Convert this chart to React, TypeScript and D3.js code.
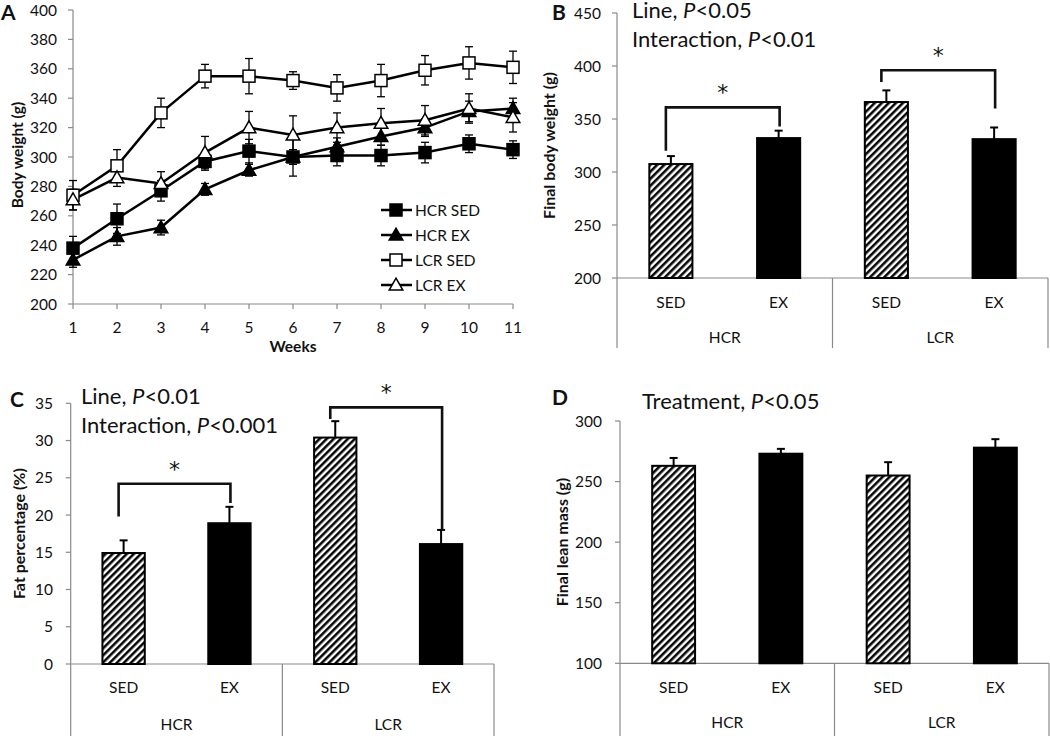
import React from "react";
import * as d3 from "d3";

// ---------- Panel A data ----------
const weeks = [1, 2, 3, 4, 5, 6, 7, 8, 9, 10, 11];
const hcrSed = [238, 258, 277, 297, 304, 300, 301, 301, 303, 309, 305];
const hcrSedErr = [8, 10, 7, 6, 8, 13, 7, 7, 7, 6, 6];
const hcrEx = [230, 246, 252, 278, 291, 300, 307, 314, 320, 331, 333];
const hcrExErr = [5, 6, 5, 4, 4, 5, 6, 6, 6, 7, 7];
const lcrSed = [274, 294, 330, 355, 355, 352, 347, 352, 359, 364, 361];
const lcrSedErr = [10, 11, 10, 8, 12, 6, 9, 11, 10, 11, 11];
const lcrEx = [271, 286, 282, 303, 320, 315, 320, 323, 325, 333, 327];
const lcrExErr = [7, 6, 8, 11, 11, 13, 10, 10, 10, 10, 10];
const seriesNames = ["HCR SED", "HCR EX", "LCR SED", "LCR EX"];
const weightTicks = [200, 220, 240, 260, 280, 300, 320, 340, 360, 380, 400];

// ---------- Bar panels data ----------
const groups = ["HCR", "LCR"];
const treatments = ["SED", "EX"];
const finalBW = [307.5, 332, 366, 331];
const finalBWErr = [7.5, 7, 11, 11];
const bwTicks = [200, 250, 300, 350, 400, 450];
const fatPct = [14.9, 18.9, 30.4, 16.1];
const fatPctErr = [1.7, 2.2, 2.2, 1.9];
const fatTicks = [0, 5, 10, 15, 20, 25, 30, 35];
const leanMass = [263, 273, 255, 278];
const leanMassErr = [6.5, 4, 11, 7];
const leanTicks = [100, 150, 200, 250, 300];

const FONT = "Lato, 'Open Sans', sans-serif";
const AXIS = "#8a8a8a";

type Marker = "sq" | "tri";

function MarkerShape({ x, y, kind, filled }: { x: number; y: number; kind: Marker; filled: boolean }) {
  const fill = filled ? "#000" : "#fff";
  if (kind === "sq") {
    return <rect x={x - 6} y={y - 6} width={12} height={12} fill={fill} stroke="#000" strokeWidth={1.5} />;
  }
  const s = 6.8;
  return (
    <path
      d={`M${x},${y - s}L${x + s},${y + s * 0.75}L${x - s},${y + s * 0.75}Z`}
      fill={fill}
      stroke="#000"
      strokeWidth={1.5}
    />
  );
}

function LinePanel() {
  const left = 73, right = 513, top = 10, bottom = 304;
  const x = d3.scaleLinear().domain([1, 11]).range([left, right]);
  const y = d3.scaleLinear().domain([200, 400]).range([bottom, top]);
  const series = [
    { name: seriesNames[0], v: hcrSed, e: hcrSedErr, kind: "sq" as Marker, filled: true },
    { name: seriesNames[1], v: hcrEx, e: hcrExErr, kind: "tri" as Marker, filled: true },
    { name: seriesNames[2], v: lcrSed, e: lcrSedErr, kind: "sq" as Marker, filled: false },
    { name: seriesNames[3], v: lcrEx, e: lcrExErr, kind: "tri" as Marker, filled: false },
  ];
  const line = d3.line<number>().x((_, i) => x(weeks[i])).y((d) => y(d));
  return (
    <g fontFamily={FONT}>
      <line x1={left} x2={left} y1={top} y2={bottom} stroke={AXIS} strokeWidth={1.2} />
      <line x1={left} x2={right} y1={bottom} y2={bottom} stroke={AXIS} strokeWidth={1.2} />
      {weightTicks.map((t) => (
        <g key={t}>
          <line x1={left - 5} x2={left} y1={y(t)} y2={y(t)} stroke={AXIS} strokeWidth={1.2} />
          <text x={57} y={y(t)} dy="0.36em" textAnchor="end" fontSize={15.5} fill="#111">
            {t}
          </text>
        </g>
      ))}
      {weeks.map((w) => (
        <g key={w}>
          <line x1={x(w)} x2={x(w)} y1={bottom} y2={bottom + 5} stroke={AXIS} strokeWidth={1.2} />
          <text x={x(w)} y={333} textAnchor="middle" fontSize={15.5} fill="#111">
            {w}
          </text>
        </g>
      ))}
      <text x={293} y={352} textAnchor="middle" fontSize={15.5} fontWeight="bold" fill="#111">
        Weeks
      </text>
      <text
        transform={`translate(23,155) rotate(-90)`}
        textAnchor="middle"
        fontSize={15.5}
        fontWeight="bold"
        fill="#111"
      >
        Body weight (g)
      </text>
      <text x={1} y={20} fontSize={21} fontWeight="bold" fill="#111">
        A
      </text>
      {series.map((s) => (
        <g key={s.name}>
          <path d={line(s.v) || ""} fill="none" stroke="#000" strokeWidth={2.5} />
        </g>
      ))}
      {series.map((s) => (
        <g key={s.name + "e"}>
          {s.v.map((v, i) => (
            <g key={i} stroke="#000" strokeWidth={1.3}>
              <line x1={x(weeks[i])} x2={x(weeks[i])} y1={y(v + s.e[i])} y2={y(v - s.e[i])} />
              <line x1={x(weeks[i]) - 4} x2={x(weeks[i]) + 4} y1={y(v + s.e[i])} y2={y(v + s.e[i])} />
              <line x1={x(weeks[i]) - 4} x2={x(weeks[i]) + 4} y1={y(v - s.e[i])} y2={y(v - s.e[i])} />
            </g>
          ))}
        </g>
      ))}
      {series.map((s) => (
        <g key={s.name + "m"}>
          {s.v.map((v, i) => (
            <MarkerShape key={i} x={x(weeks[i])} y={y(v)} kind={s.kind} filled={s.filled} />
          ))}
        </g>
      ))}
      {series.map((s, i) => {
        const ly = 210 + i * 25;
        return (
          <g key={s.name + "l"}>
            <line x1={381} x2={412} y1={ly} y2={ly} stroke="#000" strokeWidth={2.5} />
            <MarkerShape x={396} y={ly} kind={s.kind} filled={s.filled} />
            <text x={415} y={ly} dy="0.36em" fontSize={15.5} fill="#111">
              {s.name}
            </text>
          </g>
        );
      })}
    </g>
  );
}

type Bracket = { a: number; b: number; level: number; endA: number; endB: number };

type BarPanelProps = {
  left: number;
  right: number;
  top: number;
  bottom: number;
  sepBottom: number;
  domain: [number, number];
  ticks: number[];
  values: number[];
  errors: number[];
  labelRight: number;
  yLabel: string;
  yLabelX: number;
  tickBaseline: number;
  groupBaseline: number;
  letter: string;
  letterPos: [number, number];
  notes: { text: string; italicP: string; x: number; y: number }[];
  brackets: Bracket[];
};

function BarPanel(p: BarPanelProps) {
  const keys = groups.flatMap((g) => treatments.map((t) => `${g}-${t}`));
  const x = d3.scaleBand().domain(keys).range([p.left, p.right]).paddingInner(0.6).paddingOuter(0.3);
  const y = d3.scaleLinear().domain(p.domain).range([p.bottom, p.top]);
  const gw = (p.right - p.left) / groups.length;
  const cx = (i: number) => (x(keys[i]) as number) + x.bandwidth() / 2;
  return (
    <g fontFamily={FONT}>
      <line x1={p.left} x2={p.left} y1={p.top} y2={p.sepBottom} stroke={AXIS} strokeWidth={1.2} />
      <line x1={p.left} x2={p.right} y1={p.bottom} y2={p.bottom} stroke={AXIS} strokeWidth={1.2} />
      {groups.map((g, gi) => (
        <line
          key={g}
          x1={p.left + gw * (gi + 1)}
          x2={p.left + gw * (gi + 1)}
          y1={p.bottom}
          y2={p.sepBottom}
          stroke={AXIS}
          strokeWidth={1.2}
        />
      ))}
      {p.ticks.map((t) => (
        <g key={t}>
          <line x1={p.left - 5} x2={p.left} y1={y(t)} y2={y(t)} stroke={AXIS} strokeWidth={1.2} />
          <text x={p.labelRight} y={y(t)} dy="0.36em" textAnchor="end" fontSize={15.5} fill="#111">
            {t}
          </text>
        </g>
      ))}
      <text
        transform={`translate(${p.yLabelX},${(p.top + p.bottom) / 2}) rotate(-90)`}
        textAnchor="middle"
        fontSize={16}
        fontWeight="bold"
        fill="#111"
      >
        {p.yLabel}
      </text>
      {p.values.map((v, i) => {
        const sed = i % 2 === 0;
        const bx = x(keys[i]) as number;
        return (
          <g key={i}>
            <line x1={cx(i)} x2={cx(i)} y1={y(v)} y2={y(v + p.errors[i])} stroke="#000" strokeWidth={2} />
            <line
              x1={cx(i) - 4}
              x2={cx(i) + 4}
              y1={y(v + p.errors[i])}
              y2={y(v + p.errors[i])}
              stroke="#000"
              strokeWidth={2}
            />
            <rect
              x={bx}
              y={y(v)}
              width={x.bandwidth()}
              height={p.bottom - y(v)}
              fill={sed ? "url(#hatch)" : "#000"}
              stroke="#000"
              strokeWidth={2}
            />
          </g>
        );
      })}
      {keys.map((k, i) => (
        <text key={k} x={cx(i)} y={p.tickBaseline} textAnchor="middle" fontSize={15.5} fill="#111">
          {treatments[i % 2]}
        </text>
      ))}
      {groups.map((g, gi) => (
        <text key={g} x={p.left + gw * (gi + 0.5)} y={p.groupBaseline} textAnchor="middle" fontSize={15.5} fill="#111">
          {g}
        </text>
      ))}
      {p.brackets.map((b, i) => {
        const xa = cx(b.a) - 5;
        const xb = cx(b.b) + 1;
        return (
          <g key={i}>
            <path
              d={`M${xa},${y(b.endA)}V${y(b.level)}H${xb}V${y(b.endB)}`}
              fill="none"
              stroke="#111"
              strokeWidth={2.6}
            />
            <text
              x={(xa + xb) / 2}
              y={y(b.level) - 7}
              textAnchor="middle"
              fontSize={22}
              fontFamily="'DejaVu Sans', sans-serif"
              fill="#111"
            >
              *
            </text>
          </g>
        );
      })}
      <text x={p.letterPos[0]} y={p.letterPos[1]} fontSize={21} fontWeight="bold" fill="#111">
        {p.letter}
      </text>
      {p.notes.map((n, i) => (
        <text key={i} x={n.x} y={n.y} fontSize={22} fill="#111">
          {n.text}
          <tspan fontStyle="italic">P</tspan>
          {n.italicP}
        </text>
      ))}
    </g>
  );
}

export default function App() {
  return (
    <svg width={1050} height={736} style={{ position: "absolute", left: 0, top: 0, background: "#fff" }}>
      <defs>
        <pattern id="hatch" patternUnits="userSpaceOnUse" width={5} height={5} patternTransform="rotate(45)">
          <rect width={5} height={5} fill="#fff" />
          <line x1={1.3} y1={0} x2={1.3} y2={5} stroke="#000" strokeWidth={2.5} />
        </pattern>
      </defs>
      <rect width={1050} height={736} fill="#fff" />
      <LinePanel />
      <BarPanel
        left={617}
        right={1048}
        top={13}
        bottom={278}
        sepBottom={348}
        domain={[200, 450]}
        ticks={bwTicks}
        values={finalBW}
        errors={finalBWErr}
        labelRight={601}
        yLabel="Final body weight (g)"
        yLabelX={555}
        tickBaseline={308}
        groupBaseline={343}
        letter="B"
        letterPos={[552, 20]}
        notes={[
          { text: "Line, ", italicP: "<0.05", x: 632, y: 18 },
          { text: "Interaction, ", italicP: "<0.01", x: 632, y: 47 },
        ]}
        brackets={[
          { a: 0, b: 1, level: 361, endA: 320, endB: 343 },
          { a: 2, b: 3, level: 396, endA: 385, endB: 360 },
        ]}
      />
      <BarPanel
        left={70.7}
        right={494}
        top={403.3}
        bottom={664}
        sepBottom={736}
        domain={[0, 35]}
        ticks={fatTicks}
        values={fatPct}
        errors={fatPctErr}
        labelRight={53}
        yLabel="Fat percentage (%)"
        yLabelX={25}
        tickBaseline={693}
        groupBaseline={730}
        letter="C"
        letterPos={[10, 407]}
        notes={[
          { text: "Line, ", italicP: "<0.01", x: 81, y: 404 },
          { text: "Interaction, ", italicP: "<0.001", x: 81, y: 433 },
        ]}
        brackets={[
          { a: 0, b: 1, level: 24.2, endA: 19.8, endB: 21.6 },
          { a: 2, b: 3, level: 34.45, endA: 32.9, endB: 18.0 },
        ]}
      />
      <BarPanel
        left={620}
        right={1049}
        top={421}
        bottom={663.3}
        sepBottom={736}
        domain={[100, 300]}
        ticks={leanTicks}
        values={leanMass}
        errors={leanMassErr}
        labelRight={602}
        yLabel="Final lean mass (g)"
        yLabelX={568}
        tickBaseline={693}
        groupBaseline={728}
        letter="D"
        letterPos={[552, 405]}
        notes={[{ text: "Treatment, ", italicP: "<0.05", x: 642, y: 409 }]}
        brackets={[]}
      />
    </svg>
  );
}
